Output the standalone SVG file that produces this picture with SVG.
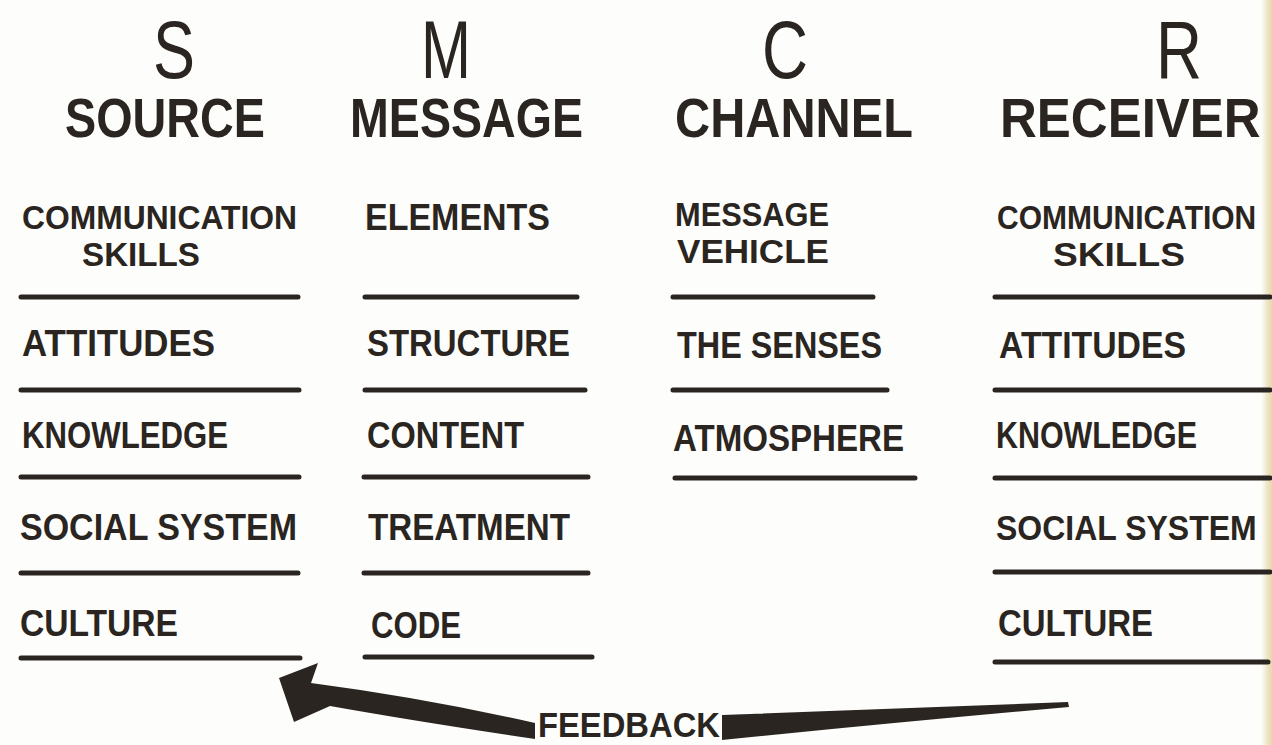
<svg xmlns="http://www.w3.org/2000/svg" width="1272" height="745" viewBox="0 0 1272 745">
<defs>
<linearGradient id="edge" x1="0" y1="0" x2="1" y2="0">
<stop offset="0" stop-color="#fbfaf6"/>
<stop offset="0.5" stop-color="#efe6c8"/>
<stop offset="1" stop-color="#e6d9a8"/>
</linearGradient>
</defs>
<style>
text{font-family:"Liberation Sans",Arial,sans-serif;fill:#2a2520}
.big{font-size:82px;font-weight:normal}
.hd{font-size:55px;font-weight:bold}
.it{font-size:36px;font-weight:bold}
.two{font-size:33px;font-weight:bold}
.b{font-weight:bold}
.rule{stroke:#2a2520;stroke-width:5;stroke-linecap:round;fill:none}
.ink{fill:#2a2520}
</style>
<rect width="1272" height="745" fill="#fdfdfb"/>
<rect x="1262" y="0" width="10" height="745" fill="url(#edge)"/>

<g id="source">
<text class="big" x="153" y="78" textLength="42" lengthAdjust="spacingAndGlyphs">S</text>
<text class="hd" x="65" y="137" textLength="200" lengthAdjust="spacingAndGlyphs">SOURCE</text>
<text class="two"><tspan x="22" y="229" textLength="275" lengthAdjust="spacingAndGlyphs">COMMUNICATION</tspan><tspan x="82" y="266" textLength="118" lengthAdjust="spacingAndGlyphs">SKILLS</tspan></text>
<text class="it" x="22" y="356" textLength="193" lengthAdjust="spacingAndGlyphs">ATTITUDES</text>
<text class="it" x="22" y="448" textLength="206" lengthAdjust="spacingAndGlyphs">KNOWLEDGE</text>
<text class="it" x="20" y="540" textLength="277" lengthAdjust="spacingAndGlyphs">SOCIAL SYSTEM</text>
<text class="it" x="20" y="636" textLength="158" lengthAdjust="spacingAndGlyphs">CULTURE</text>
<path class="rule" d="M21 297H298M21 390H299M21 477H299M21 573H298M21 658H300"/>
</g>

<g id="message">
<text class="big" x="421" y="78" textLength="50" lengthAdjust="spacingAndGlyphs">M</text>
<text class="hd" x="350" y="137" textLength="233" lengthAdjust="spacingAndGlyphs">MESSAGE</text>
<text class="it" x="365" y="230" textLength="185" lengthAdjust="spacingAndGlyphs">ELEMENTS</text>
<text class="it" x="367" y="356" textLength="203" lengthAdjust="spacingAndGlyphs">STRUCTURE</text>
<text class="it" x="367" y="448" textLength="157" lengthAdjust="spacingAndGlyphs">CONTENT</text>
<text class="it" x="368" y="540" textLength="202" lengthAdjust="spacingAndGlyphs">TREATMENT</text>
<text class="it" x="371" y="638" textLength="90" lengthAdjust="spacingAndGlyphs">CODE</text>
<path class="rule" d="M365 297H577M365 390H585M364 477H588M364 573H588M365 657H592"/>
</g>

<g id="channel">
<text class="big" x="762" y="78" textLength="46" lengthAdjust="spacingAndGlyphs">C</text>
<text class="hd" x="675" y="137" textLength="238" lengthAdjust="spacingAndGlyphs">CHANNEL</text>
<text class="two"><tspan x="675" y="226" textLength="154" lengthAdjust="spacingAndGlyphs">MESSAGE</tspan><tspan x="677" y="263" textLength="152" lengthAdjust="spacingAndGlyphs">VEHICLE</tspan></text>
<text class="it" x="677" y="358" textLength="205" lengthAdjust="spacingAndGlyphs">THE SENSES</text>
<text class="it" x="673" y="451" textLength="231" lengthAdjust="spacingAndGlyphs">ATMOSPHERE</text>
<path class="rule" d="M673 297H873M673 390H887M675 478H915"/>
</g>

<g id="receiver">
<text class="big" x="1156" y="78" textLength="46" lengthAdjust="spacingAndGlyphs">R</text>
<text class="b" font-size="51" transform="translate(1000 137) scale(1 1.08)">RECEIVER</text>
<text class="b" font-size="30" transform="translate(997 229) scale(1 1.1)"><tspan x="0" y="0">COMMUNICATION</tspan><tspan x="56" y="33.7" textLength="132" lengthAdjust="spacingAndGlyphs">SKILLS</tspan></text>
<text class="it" x="999" y="358" textLength="187" lengthAdjust="spacingAndGlyphs">ATTITUDES</text>
<text class="it" x="996" y="448" textLength="201" lengthAdjust="spacingAndGlyphs">KNOWLEDGE</text>
<text class="b" font-size="32" transform="translate(996 540) scale(1 1.12)">SOCIAL SYSTEM</text>
<text class="it" x="998" y="636" textLength="155" lengthAdjust="spacingAndGlyphs">CULTURE</text>
<path class="rule" d="M995 297H1270M995 390H1270M995 478H1270M995 572H1270M995 662H1268"/>
</g>

<g id="feedback">
<text class="b" font-size="35" x="538" y="737" textLength="182" lengthAdjust="spacingAndGlyphs">FEEDBACK</text>
</g>

<g id="connectors">
<path class="ink" d="M722 715L1068 702L1069 707Q900 722 722 740Z"/>
<path class="ink" d="M279 678L318 663L311 683Q425 698 535 723L535 739Q420 722 330 706L294 722Z"/>
</g>
</svg>
